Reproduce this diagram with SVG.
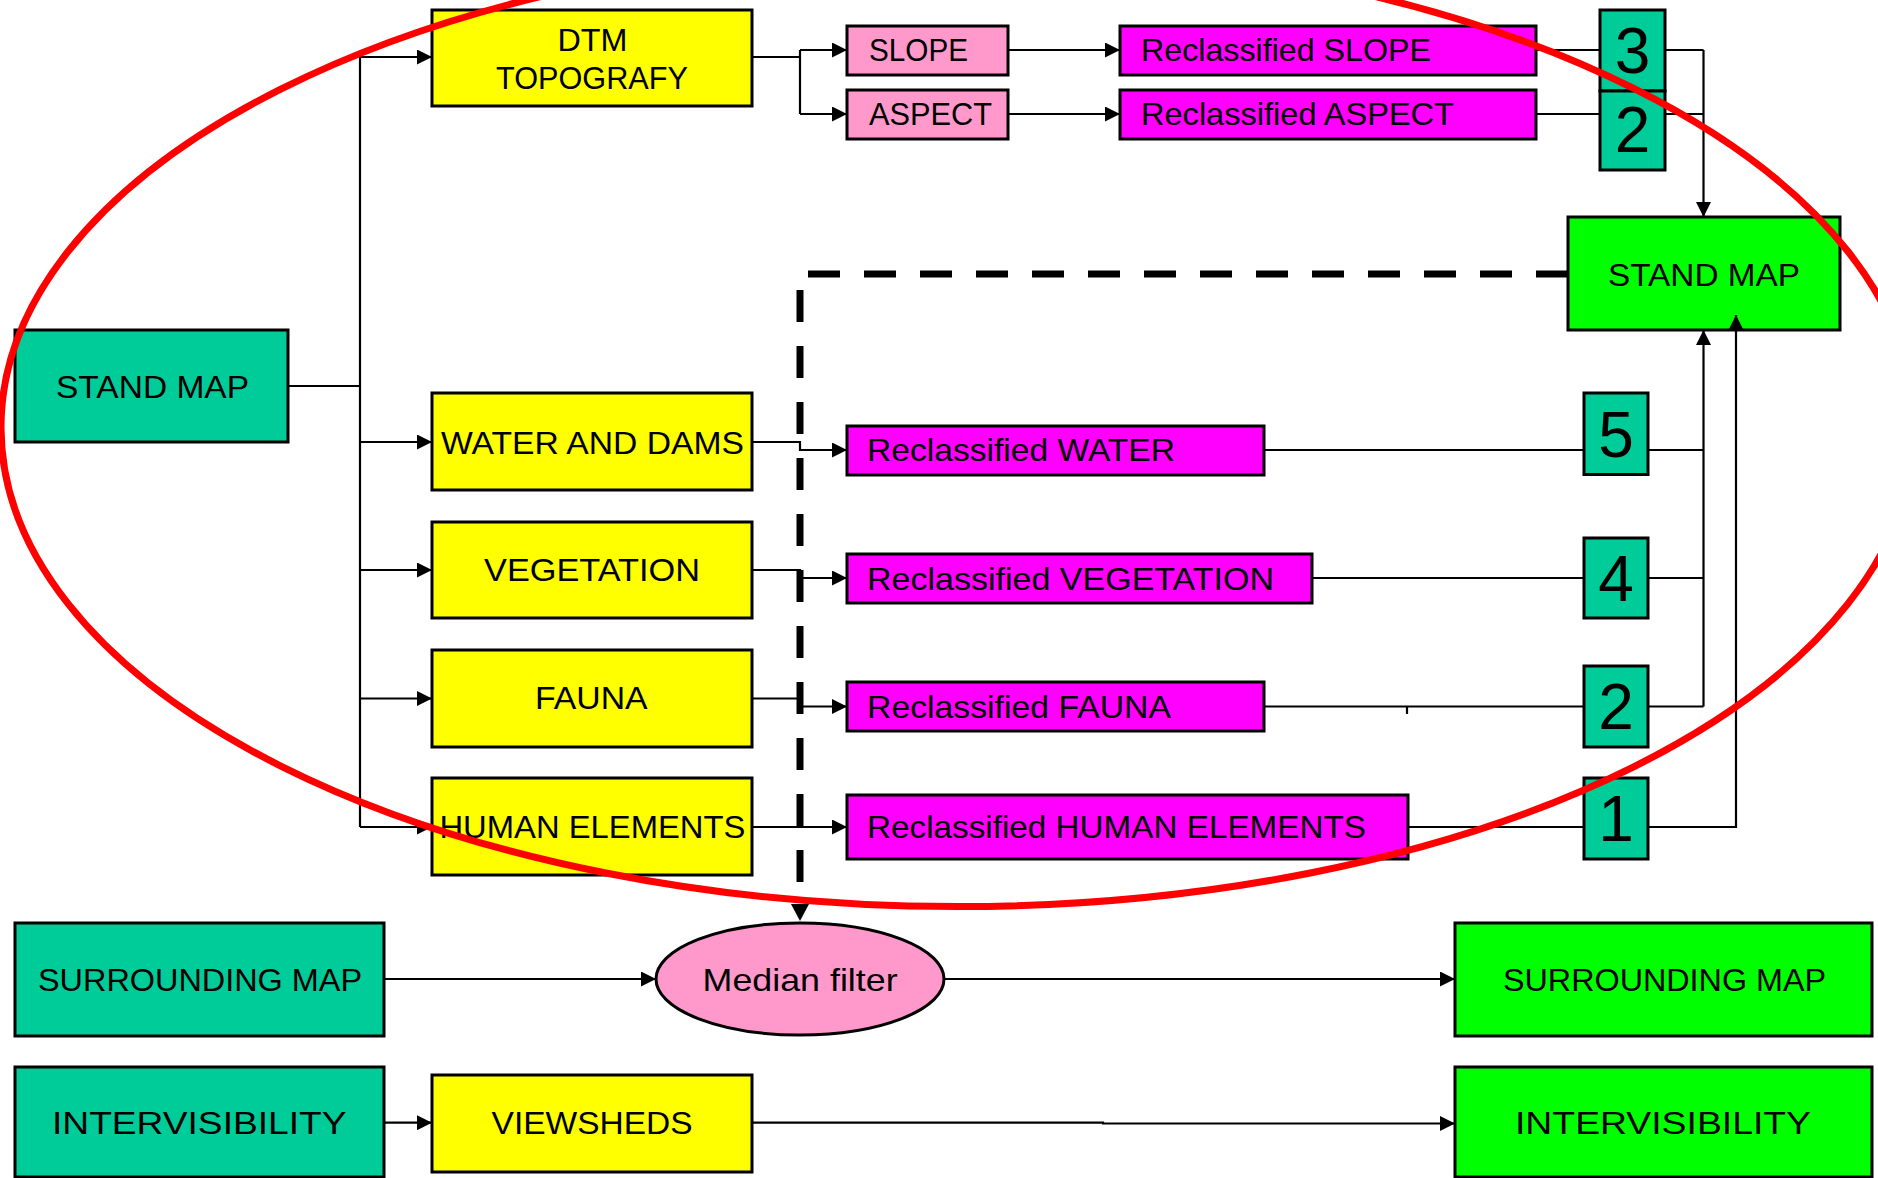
<svg xmlns="http://www.w3.org/2000/svg" width="1878" height="1178" viewBox="0 0 1878 1178">
<defs>
<style>
.box{stroke:#000;stroke-width:3}
.teal{fill:#00CC99}.yel{fill:#FFFF00}.pink{fill:#FF99CC}.mag{fill:#FF00FF}.grn{fill:#00FF00}
.t{font-family:"Liberation Sans Narrow","Liberation Sans",Arial,sans-serif;font-size:32px;fill:#000}
.n{font-family:"Liberation Sans",Arial,sans-serif;font-size:64px;fill:#000;text-anchor:middle}
.c{fill:none;stroke:#000;stroke-width:2.2}
.a{marker-end:url(#arr)}
</style>
<marker id="arr" markerUnits="userSpaceOnUse" markerWidth="15" markerHeight="15" refX="15" refY="7.5" orient="auto">
<path d="M0,0 L15,7.5 L0,15 z" fill="#000"/>
</marker>
</defs>
<rect width="1878" height="1178" fill="#fff"/>

<g id="stand-map-in"><rect class="box teal" x="15" y="330" width="273" height="112"/><text class="t" x="56" y="398" textLength="193" lengthAdjust="spacingAndGlyphs">STAND MAP</text></g>
<g id="dtm"><rect class="box yel" x="432" y="10" width="320" height="96"/><text class="t" x="557.5" y="50.5" textLength="70" lengthAdjust="spacingAndGlyphs">DTM</text><text class="t" x="496" y="88.8" textLength="192" lengthAdjust="spacingAndGlyphs">TOPOGRAFY</text></g>
<g id="slope"><rect class="box pink" x="847" y="26" width="161" height="49"/><text class="t" x="869" y="61" textLength="99" lengthAdjust="spacingAndGlyphs">SLOPE</text></g>
<g id="aspect"><rect class="box pink" x="847" y="90" width="161" height="49"/><text class="t" x="869" y="124.5" textLength="123" lengthAdjust="spacingAndGlyphs">ASPECT</text></g>
<g id="reclass-slope"><rect class="box mag" x="1120" y="26" width="416" height="49"/><text class="t" x="1141" y="61" textLength="290" lengthAdjust="spacingAndGlyphs">Reclassified SLOPE</text></g>
<g id="reclass-aspect"><rect class="box mag" x="1120" y="90" width="416" height="49"/><text class="t" x="1141" y="124.5" textLength="313" lengthAdjust="spacingAndGlyphs">Reclassified ASPECT</text></g>
<g id="num-3"><rect class="box teal" x="1600" y="10" width="65" height="81"/><text class="n" x="1632.5" y="72.7">3</text></g>
<g id="num-2a"><rect class="box teal" x="1600" y="91" width="65" height="79"/><text class="n" x="1632.5" y="152">2</text></g>
<g id="stand-map-out"><rect class="box grn" x="1568" y="217" width="272" height="113"/><text class="t" x="1608" y="286" textLength="192" lengthAdjust="spacingAndGlyphs">STAND MAP</text></g>
<g id="water"><rect class="box yel" x="432" y="393" width="320" height="97"/><text class="t" x="441" y="453.5" textLength="303" lengthAdjust="spacingAndGlyphs">WATER AND DAMS</text></g>
<g id="reclass-water"><rect class="box mag" x="847" y="426" width="417" height="49"/><text class="t" x="867" y="461" textLength="308" lengthAdjust="spacingAndGlyphs">Reclassified WATER</text></g>
<g id="num-5"><rect class="box teal" x="1584" y="393" width="64" height="81.5"/><text class="n" x="1616" y="457">5</text></g>
<g id="vegetation"><rect class="box yel" x="432" y="522" width="320" height="96"/><text class="t" x="484" y="581" textLength="216" lengthAdjust="spacingAndGlyphs">VEGETATION</text></g>
<g id="reclass-vegetation"><rect class="box mag" x="847" y="554" width="465" height="49"/><text class="t" x="867" y="589.5" textLength="407" lengthAdjust="spacingAndGlyphs">Reclassified VEGETATION</text></g>
<g id="num-4"><rect class="box teal" x="1584" y="538" width="64" height="80"/><text class="n" x="1616" y="601">4</text></g>
<g id="fauna"><rect class="box yel" x="432" y="650" width="320" height="97"/><text class="t" x="535" y="709.4" textLength="112.5" lengthAdjust="spacingAndGlyphs">FAUNA</text></g>
<g id="reclass-fauna"><rect class="box mag" x="847" y="682" width="417" height="49"/><text class="t" x="867" y="717.5" textLength="304" lengthAdjust="spacingAndGlyphs">Reclassified FAUNA</text></g>
<g id="num-2b"><rect class="box teal" x="1584" y="666" width="64" height="81"/><text class="n" x="1616" y="729">2</text></g>
<g id="human"><rect class="box yel" x="432" y="778" width="320" height="97"/><text class="t" x="439.4" y="838.3" textLength="306" lengthAdjust="spacingAndGlyphs">HUMAN ELEMENTS</text></g>
<g id="reclass-human"><rect class="box mag" x="847" y="795" width="561" height="64"/><text class="t" x="867" y="838" textLength="499" lengthAdjust="spacingAndGlyphs">Reclassified HUMAN ELEMENTS</text></g>
<g id="num-1"><rect class="box teal" x="1584" y="778" width="64" height="81"/><text class="n" x="1616" y="841.4">1</text></g>
<g id="surrounding-in"><rect class="box teal" x="15" y="923" width="369" height="113"/><text class="t" x="38" y="990.6" textLength="324" lengthAdjust="spacingAndGlyphs">SURROUNDING MAP</text></g>
<g id="median-filter"><ellipse cx="800" cy="979" rx="144" ry="56" fill="#FF99CC" stroke="#000" stroke-width="3"/><text class="t" x="702.6" y="990.6" textLength="195" lengthAdjust="spacingAndGlyphs">Median filter</text></g>
<g id="surrounding-out"><rect class="box grn" x="1455" y="923" width="417" height="113"/><text class="t" x="1503" y="990.6" textLength="323" lengthAdjust="spacingAndGlyphs">SURROUNDING MAP</text></g>
<g id="intervisibility-in"><rect class="box teal" x="15" y="1067" width="369" height="110"/><text class="t" x="52" y="1134.2" textLength="294.5" lengthAdjust="spacingAndGlyphs">INTERVISIBILITY</text></g>
<g id="viewsheds"><rect class="box yel" x="432" y="1075" width="320" height="97"/><text class="t" x="491.6" y="1134.2" textLength="201" lengthAdjust="spacingAndGlyphs">VIEWSHEDS</text></g>
<g id="intervisibility-out"><rect class="box grn" x="1455" y="1067" width="417" height="110"/><text class="t" x="1515" y="1134.2" textLength="296" lengthAdjust="spacingAndGlyphs">INTERVISIBILITY</text></g>

<g id="connectors">
<path class="c" d="M288,386 H360"/>
<path class="c" d="M360,57 V827"/>
<path class="c a" d="M360,57 H432"/>
<path class="c a" d="M360,442 H432"/>
<path class="c a" d="M360,570 H432"/>
<path class="c a" d="M360,698.5 H432"/>
<path class="c a" d="M360,827 H432"/>
<path class="c" d="M752,57 H800 M800,50 V114"/>
<path class="c a" d="M800,50 H847"/>
<path class="c a" d="M800,114 H847"/>
<path class="c a" d="M1008,50 H1120"/>
<path class="c a" d="M1008,114 H1120"/>
<path class="c" d="M1536,50 H1600 M1536,114 H1600 M1665,50 H1703.5 M1665,114 H1703.5"/>
<path class="c a" d="M1703.5,50 V217"/>
<path class="c a" d="M752,442 H800 V450 H847"/>
<path class="c a" d="M752,570 H800 V578 H847"/>
<path class="c a" d="M752,698.5 H800 V706.5 H847"/>
<path class="c a" d="M752,827 H847"/>
<path class="c" d="M1264,450 H1584 M1648,450 H1703.5"/>
<path class="c" d="M1312,578 H1584 M1648,578 H1703.5"/>
<path class="c" d="M1264,706.5 H1584 M1407,706.5 V714 M1648,706.5 H1703.5"/>
<path class="c a" d="M1703.5,706.5 V330"/>
<path class="c" d="M1408,827 H1584"/>
<path class="c a" d="M1648,827 H1736 V315"/>
<path d="M1568,274 H800 V905" fill="none" stroke="#000" stroke-width="7" stroke-dasharray="32 24"/>
<path d="M791,904 L809,904 L800,921 z" fill="#000"/>
<path class="c a" d="M384,979 H656"/>
<path class="c a" d="M944,979 H1455"/>
<path class="c a" d="M384,1122.7 H432"/>
<path class="c a" d="M752,1122.7 H1103 V1123.5 H1455"/>
</g>

<ellipse id="highlight" cx="958" cy="427.6" rx="957" ry="479" fill="none" stroke="#FF0000" stroke-width="7"/>
</svg>
